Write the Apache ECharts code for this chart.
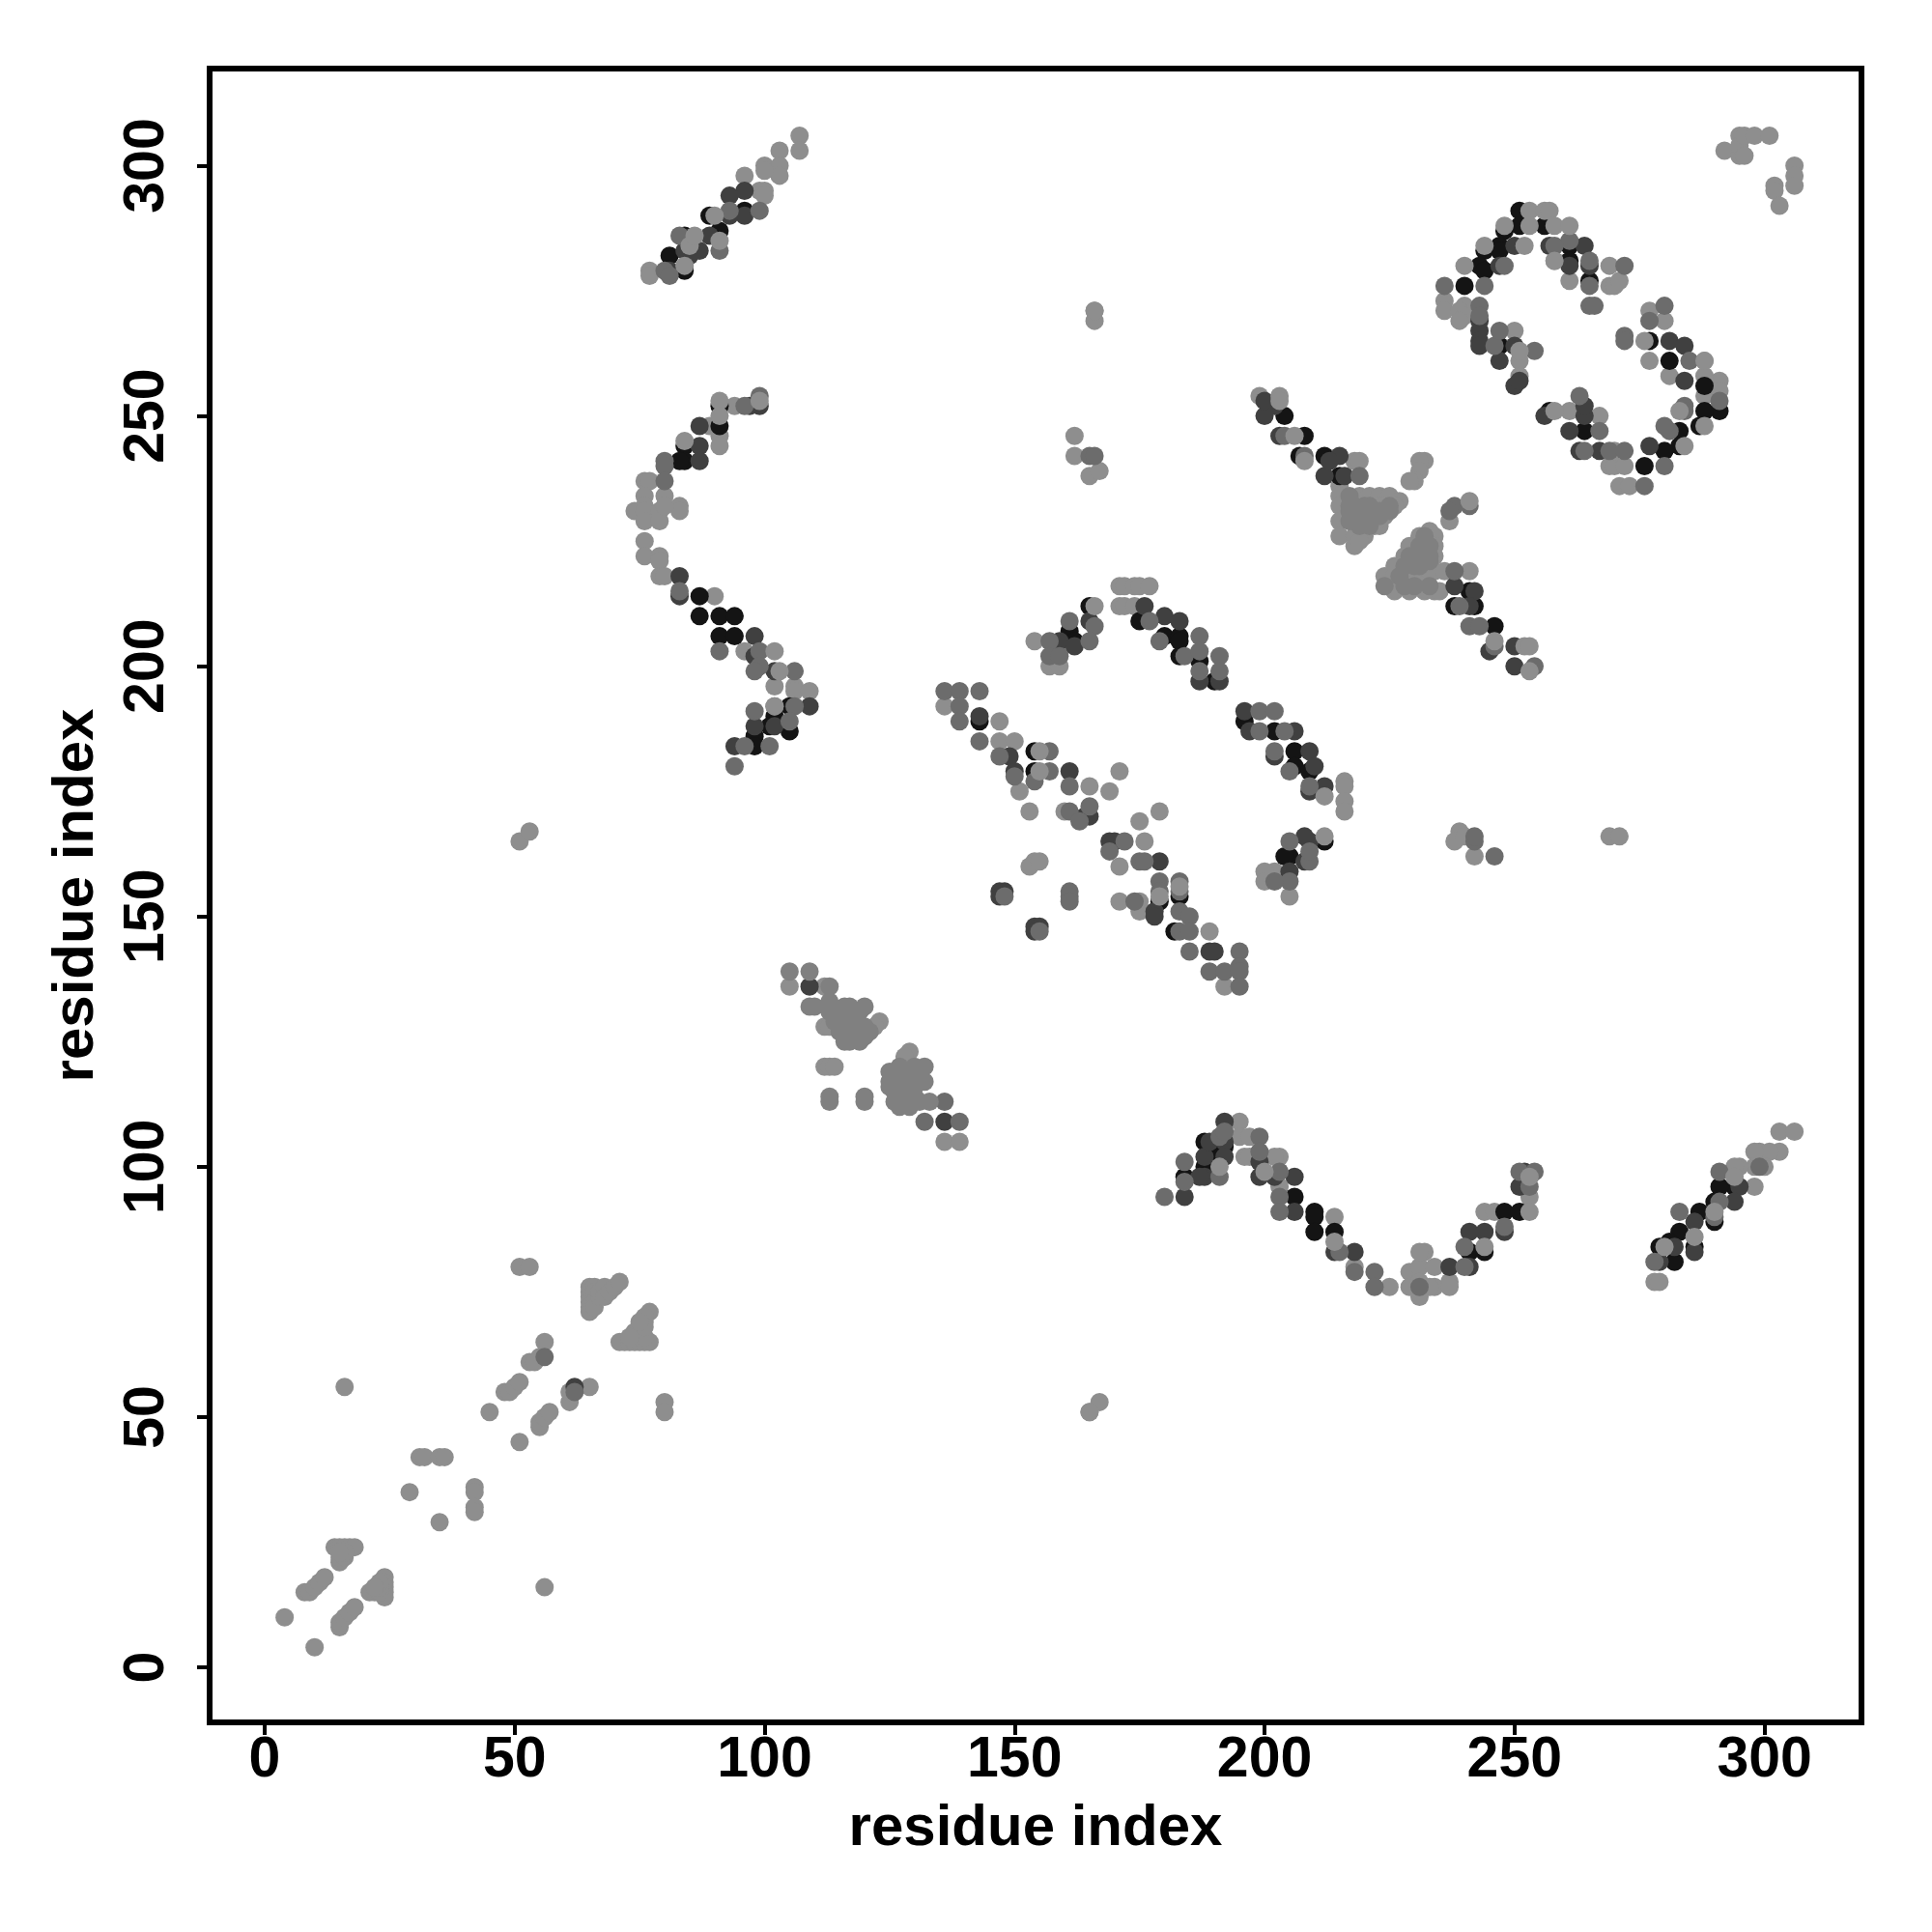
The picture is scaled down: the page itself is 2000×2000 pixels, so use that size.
<!DOCTYPE html>
<html><head><meta charset="utf-8">
<style>html,body{margin:0;padding:0;background:#fff}#c{width:2000px;height:2000px}</style>
<script src="https://cdn.jsdelivr.net/npm/echarts@6/dist/echarts.min.js"></script>
</head><body><div id="c"></div>
<script>
const axisTitle = 'residue index';
const tickValues = [0,50,100,150,200,250,300];
const lightUnder = [
[4,10],[10,4],[16,56],[56,16],[8,15],[9,15],[10,16],[11,17],[12,18],[14,24],[15,24],[16,24],[17,24],[18,24],[15,21],[15,22],[16,22],[16,23],[15,23],[24,18],[24,17],[24,16],[24,15],[24,14],[21,15],[22,15],[23,15],[23,16],[23,17],[22,16],[15,8],[15,9],[16,10],[17,11],[18,12],[29,35],[35,29],[31,42],[32,42],[35,42],[36,42],[42,36],[42,35],[42,32],[42,31],[45,51],[48,55],[49,55],[50,56],[51,57],[51,45],[55,48],[55,49],[56,50],[57,51],[51,80],[53,80],[61,53],[61,55],[65,56],[56,65],[55,62],[53,61],[54,61],[80,53],[80,51],[65,76],[65,75],[65,74],[65,73],[65,72],[65,71],[66,76],[66,75],[66,73],[66,72],[67,74],[67,75],[68,76],[68,74],[69,75],[70,76],[71,77],[77,71],[72,65],[71,65],[73,65],[74,65],[75,65],[76,65],[77,65],[75,68],[76,69],[76,70],[74,67],[75,67],[76,66],[76,68],[75,69],[73,66],
[77,279],[77,278],[107,306],[107,303],[103,303],[100,300],[103,300],[103,298],[100,299],[96,298],[99,295],[100,295],[100,294],
[94,252],[89,248],[91,246],[91,244],[76,237],[77,237],[76,234],[80,234],[76,232],[83,232],[83,231],[74,231],[76,231],[79,231],[76,229],[79,229],[80,232],[76,225],[76,222],[79,222],[79,221],[79,218],[80,218],[90,214],[96,203],[102,196],[106,196],[106,195],[109,195],
[171,216],[172,216],[174,216],[175,216],[177,216],[171,212],[172,212],[174,212],[154,205],[157,200],[159,200],[159,203],[136,192],[147,189],[147,185],[150,185],[151,175],[153,171],[169,175],[171,179],[160,171],[179,171],[175,169],[176,165],[171,160],[171,153],[175,153],[175,151],[189,147],[192,136],[154,161],[153,160],[155,161],[202,159],[200,159],[200,157],[205,154],[216,177],[216,176],[216,173],[216,171],
[162,246],[162,242],[165,238],[167,239],[166,271],[166,269],[239,167],[238,165],[240,166],[242,162],[269,166],[271,166],[51,165],[53,167],[165,51],[167,53],
[199,254],[218,241],[219,241],[215,236],[215,234],[215,232],[219,234],[221,234],[223,234],[225,234],[227,233],[226,232],[219,231],[222,232],[224,232],[224,230],[223,228],[215,229],[218,229],[220,229],[222,228],[215,226],[218,226],[220,226],[218,224],[219,225],[232,241],[231,241],[231,239],[230,237],[229,237],[237,229],[233,227],[234,226],[234,224],[234,222],[231,226],[229,224],[232,224],[228,222],[230,222],[232,220],[226,220],[224,218],[226,218],[229,218],[231,218],[233,219],[234,219],[236,219],[226,215],[229,215],[232,215],[234,215],[235,215],[241,219],
[236,273],[236,271],[240,272],[239,271],[240,270],[239,269],[269,280],[269,276],[270,276],[271,277],[277,271],[280,269],[277,261],[281,258],[288,261],[291,257],[291,255],[288,258],[288,254],[269,240],[270,240],[272,240],[271,236],[273,236],[270,243],[261,277],[258,281],[250,267],[251,261],[251,258],[267,250],[261,251],
[112,136],[105,136],[112,128],[113,128],[136,105],[139,105],[112,120],[113,120],[114,120],[123,129],[122,128],[129,123],[128,122],
[195,109],[195,106],[197,106],[196,102],[197,102],[203,102],[202,102],[203,96],[214,90],[218,80],[225,76],[229,79],[229,76],[231,80],[231,77],[231,74],[232,83],[231,83],[234,80],[234,76],[233,76],[237,77],[237,76],[244,91],[246,91],[253,94],
[303,107],[306,107],[303,103],[299,103],[301,103],[298,103],[300,100],[298,100],[295,100],[294,100],[298,96],[278,77],[279,77],
[292,303],[295,306],[295,302],[295,304],[296,306],[298,306],[301,306],[296,302],[302,296],[302,295],[306,300],[306,298],[306,296],[303,292]
];
const blackPoints = [
[84,279],[81,282],[84,286],[89,290],[91,287],[96,291],
[91,252],[91,248],[84,244],[84,241],[83,241],[87,214],[87,210],[91,210],[94,210],[91,206],[94,206],[102,190],[105,192],[105,187],[101,188],[98,186],[98,184],
[165,212],[161,207],[162,205],[175,209],[180,206],[183,206],[183,205],[183,202],[187,201],[190,197],[143,189],[154,183],[154,179],[179,153],[183,154],[182,147],[196,189],[202,187],[206,183],[206,180],[209,179],[212,165],[205,162],[204,162],
[204,250],[208,246],[207,242],[212,242],[215,238],[241,215],[238,212],[242,212],[246,208],
[251,291],[248,287],[251,288],[256,288],[244,283],[247,284],[247,283],[261,284],[243,280],[244,279],[261,281],[265,277],[240,276],[247,264],[277,265],[281,261],[288,256],[291,251],[288,251],[287,248],[283,247],[283,244],[280,243],[276,240],[257,251],[264,247],
[184,98],[188,100],[188,105],[192,104],[190,102],[206,94],[210,91],[210,90],[210,87],[214,87],[241,83],[244,83],[248,91],[251,91],
[294,96],[291,96],[290,93],[290,89],[287,91],[283,87],[286,84],[281,85],[279,84],[282,81]
];
const darkPoints = [
[62,56],
[96,295],[93,294],[96,290],[93,290],[89,286],[87,283],[84,283],[85,282],[81,279],
[99,252],[97,252],[87,248],[87,244],[87,241],[83,218],[83,214],[98,206],[98,202],[102,199],[109,192],[98,188],[102,188],[94,184],
[176,212],[165,209],[180,210],[183,209],[159,205],[162,204],[187,197],[191,197],[143,190],[149,182],[150,179],[161,179],[165,170],[164,170],[179,161],[178,151],[178,150],[189,143],[190,143],[147,155],[148,155],[147,154],[154,148],[155,148],[154,147],[196,191],[197,187],[206,187],[209,183],[210,180],[202,182],[212,176],[209,175],[209,165],[208,166],[208,161],[205,159],[169,165],[170,165],
[202,252],[200,250],[203,246],[212,238],[215,242],[213,241],[216,238],[245,203],[250,204],[250,200],[238,216],[242,215],[241,212],[200,253],
[250,284],[257,284],[264,284],[247,280],[261,280],[265,280],[243,269],[243,267],[243,265],[243,264],[250,264],[247,261],[250,256],[251,257],[281,265],[284,264],[284,257],[277,244],[256,250],[264,250],[261,247],[263,243],[267,243],[264,252],
[184,94],[188,98],[187,98],[188,102],[189,105],[192,105],[192,102],[192,109],[199,101],[199,98],[206,98],[202,98],[206,91],[214,83],[218,83],[237,80],[241,80],[241,87],[244,87],[248,87],[251,96],[253,98],[252,99],
[295,96],[294,93],[286,89],[286,83],[282,84],[279,81],
[109,136],[136,109]
];
const midPoints = [
[80,279],[81,278],[99,291],[93,291],[91,283],[83,286],[62,55],[56,62],
[99,254],[96,252],[80,241],[80,240],[80,237],[83,215],[91,203],[99,203],[99,200],[98,199],[106,199],[98,191],[102,192],[106,192],[105,189],[101,184],[96,184],[94,180],
[166,208],[161,209],[165,205],[157,205],[157,202],[159,202],[177,209],[179,205],[187,206],[184,202],[187,203],[191,202],[187,199],[191,199],[136,195],[139,195],[143,195],[139,192],[139,189],[143,185],[147,182],[150,178],[157,183],[157,179],[154,177],[161,176],[161,171],[165,172],[163,169],[172,165],[175,161],[176,161],[179,157],[183,157],[179,155],[183,155],[183,151],[185,150],[183,147],[185,147],[185,143],[195,143],[189,139],[192,139],[195,140],[195,139],[195,136],[174,153],[148,154],[155,147],[161,155],[161,154],[161,153],[199,191],[202,191],[199,187],[204,187],[202,183],[205,179],[209,176],[209,161],[205,165],[209,163],[205,157],[202,157],[169,163],[165,242],[166,242],[242,165],[242,166],[246,162],
[204,246],[208,242],[219,238],[238,232],[241,232],[237,231],[238,219],[239,212],[241,208],[243,208],[246,204],[254,200],
[236,276],[244,276],[243,272],[243,270],[248,280],[265,281],[265,276],[272,280],[261,285],[258,284],[265,272],[266,272],[246,264],[254,263],[263,254],[280,272],[277,269],[272,266],[272,265],[285,261],[291,253],[284,252],[284,251],[281,247],[280,248],[280,240],[276,236],[267,247],[264,243],[269,243],[272,243],[247,267],
[180,94],[184,97],[184,101],[191,98],[191,106],[192,107],[199,106],[199,103],[203,99],[203,94],[203,91],[215,83],[218,79],[222,79],[222,76],[231,76],[240,80],[240,84],[248,88],[253,96],[254,99],[251,99],
[299,100],[291,99],[291,93],[290,90],[283,91],[278,81],
[136,113],[139,109],[132,109]
];
const softPoints = [
[105,139],[109,139],[113,136],[109,132],[110,132],[113,133],[113,131],[117,132],[116,132],[120,132],[117,130],[116,130],[117,128],[117,125],[116,125],[119,125],[120,128],[120,126],[121,127],[118,130],[119,128],[118,126],[119,131],[118,128],[115,127],[114,129],[114,131],[120,114],[120,113],[113,114],[113,113],[125,116],[125,119],[132,120],[132,117],[129,116],[128,114],[128,113],[130,116],[131,113],[133,113],[125,117],[127,120],[129,118],[126,118],[127,117],[128,116],[126,115],[127,119],[130,120],[131,119],[130,114],[129,112],[126,113],[127,112],
[217,234],[217,232],[217,231],[217,229],[218,232],[218,231],[220,232],[220,231],[221,232],[221,230],[219,228],[221,228],[222,230],[223,231],[225,232],[225,231],[223,230],[229,222],[231,222],[233,222],[232,226],[233,224],[231,224],[230,220],[228,220],[231,220],[233,221],[227,218],[228,216],[230,216],[233,216],[224,216]
];
const lightTop = [
[84,280],[85,284],[86,286],[90,290],[91,285],[91,253],[91,250],[99,253],[84,245],[102,203],[103,199],[102,192],
[166,212],[155,183],[155,179],[165,176],[179,154],[183,156],
[203,254],[203,253],[206,246],[208,241],[252,204],[253,204],[253,199],[246,205],[241,233],
[253,291],[256,291],[257,291],[248,288],[253,288],[258,288],[261,288],[244,284],[252,284],[240,280],[258,281],[251,263],[276,265],[288,261],[284,244],[288,248],[283,251],[258,251],
[191,100],[200,99],[214,85],[244,84],[253,91],[253,98],[286,86],[280,84],[294,98],[290,91],[212,166],[212,174],[166,271],[165,51]
];
const series = [
  {name:'lightUnder', data:lightUnder, color:'#8e8e8e'},
  {name:'black', data:blackPoints, color:'#141414'},
  {name:'dark', data:darkPoints, color:'#404040'},
  {name:'mid', data:midPoints, color:'#6c6c6c'},
  {name:'soft', data:softPoints, color:'#808080'},
  {name:'lightTop', data:lightTop, color:'#8e8e8e'}
].map(s=>({type:'scatter',name:s.name,data:s.data,symbolSize:19,silent:true,animation:false,
  clip:false,itemStyle:{color:s.color,opacity:1}}));
const fontBase = {fontFamily:'"Liberation Sans",Arial,sans-serif',fontWeight:'bold',fontSize:59,color:'#000'};
function axis(rotated){
  return {type:'value',min:-11,max:319.4,name:axisTitle,nameLocation:'middle',nameMoveOverlap:false,
    nameGap:rotated?108:80,nameTextStyle:Object.assign({},fontBase,{fontSize:60}),nameRotate:rotated?90:0,
    splitLine:{show:false},axisLine:{show:false,onZero:false},
    axisTick:{show:true,length:13,customValues:tickValues,lineStyle:{color:'#000',width:4}},
    axisLabel:Object.assign({},fontBase,{show:true,margin:rotated?35:10,rotate:rotated?90:0,customValues:tickValues,
      align:'center',verticalAlign:rotated?'bottom':'top',formatter:v=>String(v)})};
}
const chart = echarts.init(document.getElementById('c'),null,{renderer:'canvas'});
chart.setOption({animation:false,backgroundColor:'#fff',
  grid:{show:true,left:217,top:71,width:1710,height:1712,borderColor:'#000',borderWidth:6,backgroundColor:'transparent'},
  xAxis:axis(false),yAxis:axis(true),series});
</script></body></html>
